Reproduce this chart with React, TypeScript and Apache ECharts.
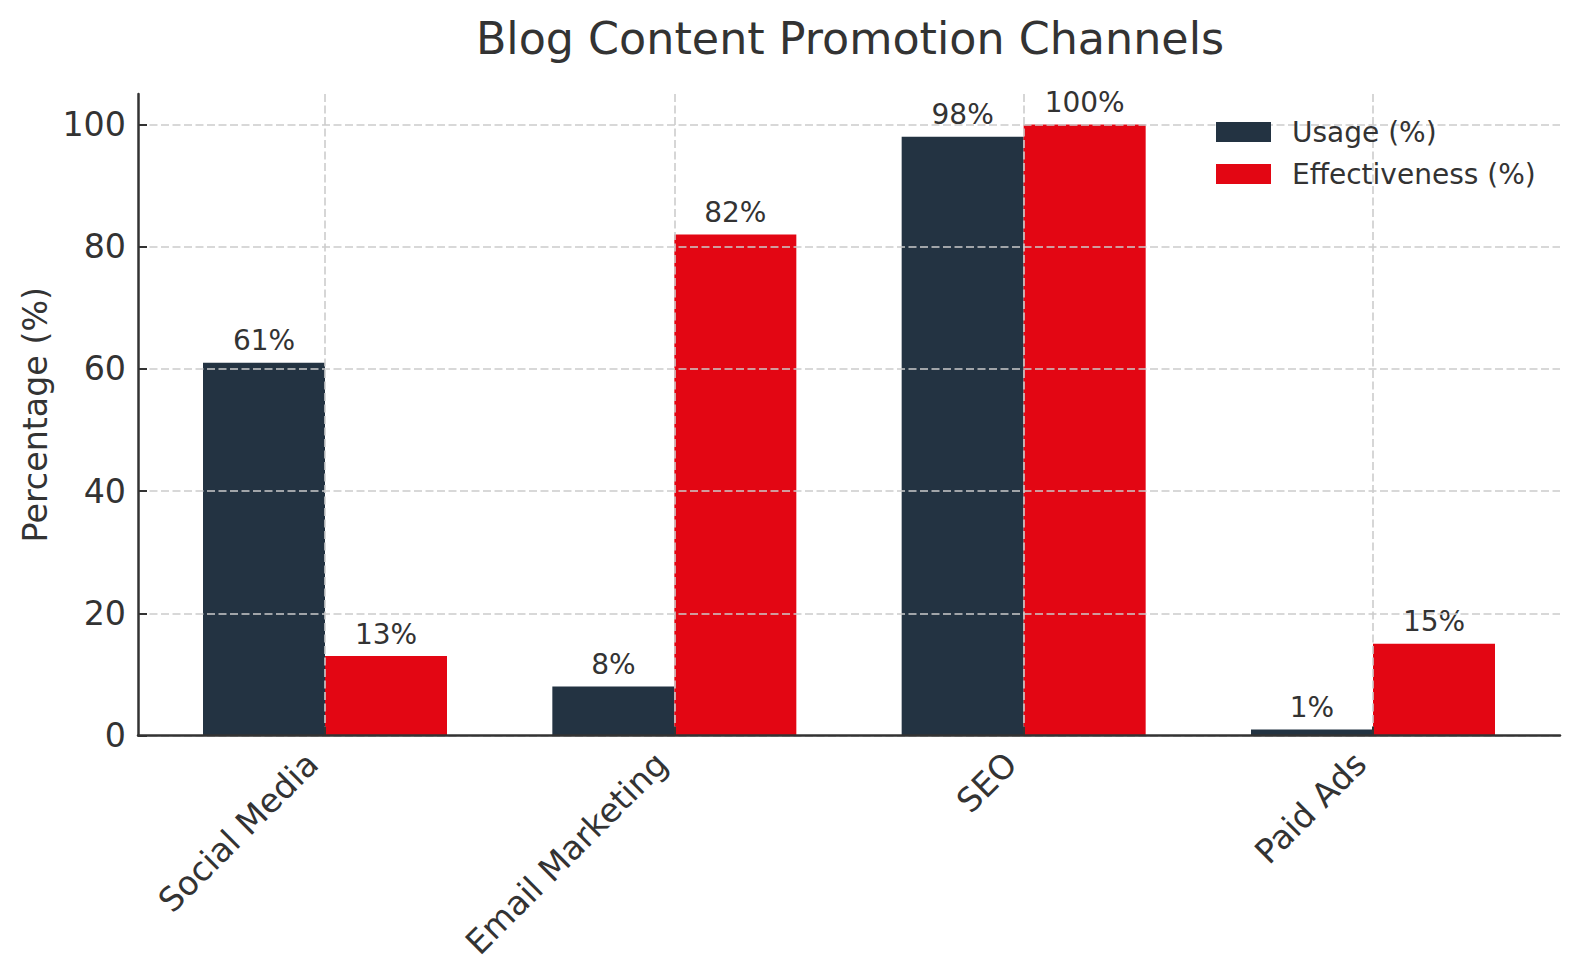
import React, { useEffect, useRef } from "react";
import * as echarts from "echarts";

const categories = ["Social Media", "Email Marketing", "SEO", "Paid Ads"];
const usage = [61, 8, 98, 1];
const effectiveness = [13, 82, 100, 15];
const seriesNames = ["Usage (%)", "Effectiveness (%)"];
const titleText = "Blog Content Promotion Channels";
const yAxisName = "Percentage (%)";

const FONT = "DejaVu Sans";
const TEXT = "#333333";
const DARK = "#233342";
const RED = "#E30613";
const GRID_LINE = { type: [8, 3.5] as any, color: "#cccccc", width: 1.6 };
const SPINE = { color: "#333333", width: 2.5 };
const TICK_FONT = 33.3;

export default function App() {
  const ref = useRef<HTMLDivElement>(null);
  useEffect(() => {
    document.body.style.margin = "0";
    const chart = echarts.init(ref.current!, null, { renderer: "svg" });
    const top = 94;
    const h = 641.5;
    const unit = h / 105;
    chart.setOption({
      animation: false,
      backgroundColor: "#ffffff",
      textStyle: { fontFamily: FONT, color: TEXT },
      title: {
        text: titleText,
        left: 845,
        textAlign: "center",
        top: 11,
        textStyle: { fontSize: 44.4, fontWeight: "normal", color: TEXT, fontFamily: FONT },
      },
      legend: {
        data: seriesNames,
        orient: "vertical",
        left: 1211,
        top: 113,
        itemWidth: 55,
        itemHeight: 20,
        itemGap: 14,
        icon: "rect",
        selectedMode: false,
        textStyle: { fontSize: 28, color: TEXT, fontFamily: FONT, padding: [0, 0, 0, 16] },
      },
      grid: [
        { left: 138, top: top, width: 1422, height: h },
        { left: 138, top: top + 5 * unit, width: 1422, height: 100 * unit },
        { left: 325, top: top, width: 1048, height: h },
      ],
      xAxis: [
        {
          gridIndex: 0, type: "value", min: 0, max: 1,
          axisLine: { show: true, lineStyle: SPINE },
          axisTick: { show: false }, axisLabel: { show: false }, splitLine: { show: false },
          z: 4,
        },
        { gridIndex: 1, type: "value", min: 0, max: 1, show: false },
        {
          gridIndex: 2, type: "category", data: categories, boundaryGap: false,
          axisLine: { show: false },
          axisTick: { show: true, inside: true, length: 9, lineStyle: { color: TEXT, width: 2 } },
          axisLabel: {
            interval: 0, rotate: 45, fontSize: TICK_FONT, color: TEXT, fontFamily: FONT,
            margin: 10, padding: [0, 18, 0, 0],
          },
          splitLine: { show: true, lineStyle: GRID_LINE },
          z: 3,
        },
      ],
      yAxis: [
        {
          gridIndex: 0, type: "value", min: 0, max: 1,
          axisLine: { show: true, lineStyle: SPINE },
          axisTick: { show: false }, axisLabel: { show: false }, splitLine: { show: false },
          name: yAxisName, nameLocation: "middle", nameGap: 86, nameRotate: 90,
          nameTextStyle: { fontSize: TICK_FONT, color: TEXT, fontFamily: FONT },
          z: 4,
        },
        {
          gridIndex: 1, type: "value", min: 0, max: 100, interval: 20,
          axisLine: { show: false },
          axisTick: { show: true, inside: true, length: 9, lineStyle: { color: TEXT, width: 2 } },
          axisLabel: { fontSize: TICK_FONT, color: TEXT, fontFamily: FONT, margin: 12 },
          splitLine: { show: true, lineStyle: GRID_LINE },
          z: 3,
        },
        { gridIndex: 2, type: "value", min: 0, max: 105, show: false },
      ],
      series: [
        {
          type: "bar", name: seriesNames[0], xAxisIndex: 2, yAxisIndex: 2,
          data: usage, barWidth: 122, barGap: "0%", clip: false,
          itemStyle: { color: DARK },
          label: { show: true, position: "top", formatter: "{c}%", fontSize: 28, color: TEXT, fontFamily: FONT, distance: 8 },
        },
        {
          type: "bar", name: seriesNames[1], xAxisIndex: 2, yAxisIndex: 2,
          data: effectiveness, barWidth: 122, barGap: "0%", clip: false,
          itemStyle: { color: RED },
          label: { show: true, position: "top", formatter: "{c}%", fontSize: 28, color: TEXT, fontFamily: FONT, distance: 8 },
        },
      ],
    });
    return () => chart.dispose();
  }, []);
  return (
    <div
      ref={ref}
      style={{ position: "fixed", left: 0, top: 0, width: 1580, height: 979, background: "#fff" }}
    />
  );
}
